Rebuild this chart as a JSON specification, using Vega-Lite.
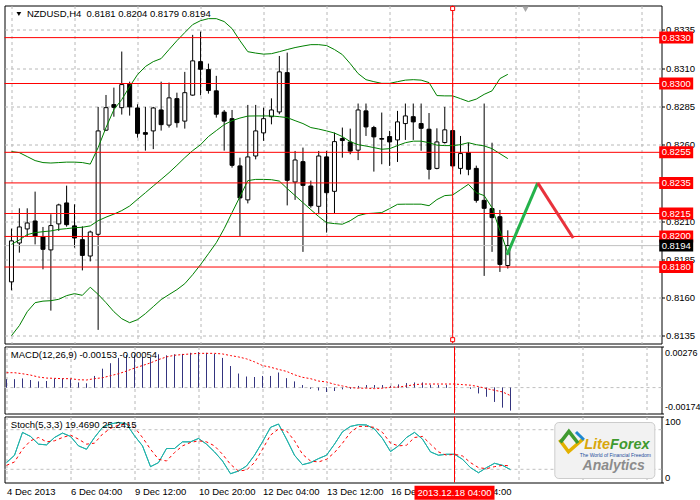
{
"$schema":"https://vega.github.io/schema/vega-lite/v6.json",
"padding":{"left":3.5,"top":3.5,"right":0,"bottom":0},
"background":"white",
"spacing":3,
"bounds":"flush",
"config":{"view":{"stroke":"black","strokeWidth":1},"font":"Liberation Sans","text":{"font":"Liberation Sans"},"axis":{"labelFont":"Liberation Sans","labelFontSize":9.5,"labelColor":"black","gridColor":"#b8b8b8","gridDash":[3,3],"domain":false,"title":null}},
"datasets":{
"bars":[
{"i":0,"o":0.81703,"h":0.82051,"l":0.81648,"c":0.81971,"bu":0.82555,"bm":0.81948,"bd":0.81351,"m":0.00055,"s":0.001,"k":30.1,"d":26},
{"i":1,"o":0.81957,"h":0.82184,"l":0.81894,"c":0.82062,"bu":0.82548,"bm":0.81977,"bd":0.81417,"m":0.00055,"s":0.001,"k":41.3,"d":31.1},
{"i":2,"o":0.82049,"h":0.82184,"l":0.81997,"c":0.82088,"bu":0.82522,"bm":0.82012,"bd":0.81508,"m":0.0006,"s":0.00093,"k":75.9,"d":50.4},
{"i":3,"o":0.82101,"h":0.82293,"l":0.81948,"c":0.82001,"bu":0.82496,"bm":0.82025,"bd":0.81567,"m":0.00051,"s":0.00084,"k":69.8,"d":63.2},
{"i":4,"o":0.81997,"h":0.82062,"l":0.81785,"c":0.81916,"bu":0.82483,"bm":0.82031,"bd":0.81577,"m":0.0004,"s":0.00071,"k":58.1,"d":68.2},
{"i":5,"o":0.81912,"h":0.82145,"l":0.81515,"c":0.82071,"bu":0.8248,"bm":0.82036,"bd":0.8158,"m":0.00044,"s":0.00064,"k":57,"d":61.6},
{"i":6,"o":0.82082,"h":0.82214,"l":0.82036,"c":0.82206,"bu":0.82483,"bm":0.82046,"bd":0.81589,"m":0.0006,"s":0.00062,"k":68.2,"d":63.2},
{"i":7,"o":0.82219,"h":0.82332,"l":0.82064,"c":0.82077,"bu":0.82486,"bm":0.82051,"bd":0.81613,"m":0.0006,"s":0.0006,"k":74.9,"d":68.2},
{"i":8,"o":0.82069,"h":0.8221,"l":0.81927,"c":0.8199,"bu":0.82486,"bm":0.82057,"bd":0.81626,"m":0.00055,"s":0.0006,"k":69.8,"d":71.8},
{"i":9,"o":0.81979,"h":0.82066,"l":0.81778,"c":0.81876,"bu":0.82483,"bm":0.8206,"bd":0.81615,"m":0.00033,"s":0.00053,"k":55.5,"d":65.7},
{"i":10,"o":0.81872,"h":0.82038,"l":0.81837,"c":0.82029,"bu":0.82473,"bm":0.82069,"bd":0.81668,"m":0.00027,"s":0.00051,"k":50.4,"d":58.1},
{"i":11,"o":0.82014,"h":0.82847,"l":0.81389,"c":0.8269,"bu":0.82581,"bm":0.82103,"bd":0.81621,"m":0.00078,"s":0.0006,"k":68.2,"d":59.6},
{"i":12,"o":0.82695,"h":0.82925,"l":0.82689,"c":0.82842,"bu":0.82712,"bm":0.82126,"bd":0.81567,"m":0.00126,"s":0.00066,"k":83.5,"d":73.3},
{"i":13,"o":0.82862,"h":0.82973,"l":0.82783,"c":0.82844,"bu":0.82829,"bm":0.82146,"bd":0.81508,"m":0.00162,"s":0.0008,"k":88.6,"d":82},
{"i":14,"o":0.82842,"h":0.83209,"l":0.82797,"c":0.82993,"bu":0.82895,"bm":0.82169,"bd":0.81462,"m":0.00199,"s":0.00093,"k":91.1,"d":87.1},
{"i":15,"o":0.82996,"h":0.83012,"l":0.8279,"c":0.82847,"bu":0.8298,"bm":0.82199,"bd":0.81436,"m":0.00219,"s":0.00111,"k":88.6,"d":88.6},
{"i":16,"o":0.8284,"h":0.82864,"l":0.82646,"c":0.82674,"bu":0.83058,"bm":0.82243,"bd":0.81456,"m":0.00215,"s":0.00131,"k":70.8,"d":83.5},
{"i":17,"o":0.82679,"h":0.82847,"l":0.82561,"c":0.82668,"bu":0.83111,"bm":0.82286,"bd":0.81495,"m":0.00206,"s":0.00148,"k":55.5,"d":68.2},
{"i":18,"o":0.8269,"h":0.82847,"l":0.82571,"c":0.8284,"bu":0.83143,"bm":0.8233,"bd":0.81541,"m":0.00199,"s":0.00166,"k":24,"d":50.4},
{"i":19,"o":0.82827,"h":0.83012,"l":0.82692,"c":0.82731,"bu":0.83163,"bm":0.82373,"bd":0.81587,"m":0.00222,"s":0.00188,"k":30.1,"d":35.2},
{"i":20,"o":0.82728,"h":0.83006,"l":0.82712,"c":0.82906,"bu":0.83222,"bm":0.82417,"bd":0.8162,"m":0.00215,"s":0.00206,"k":51.5,"d":32.6},
{"i":21,"o":0.82901,"h":0.8294,"l":0.82712,"c":0.82744,"bu":0.8328,"bm":0.82465,"bd":0.81652,"m":0.00222,"s":0.00217,"k":51.5,"d":45.3},
{"i":22,"o":0.82754,"h":0.83076,"l":0.82705,"c":0.8294,"bu":0.83333,"bm":0.82515,"bd":0.81691,"m":0.00226,"s":0.00222,"k":61.6,"d":55.5},
{"i":23,"o":0.82924,"h":0.83318,"l":0.8292,"c":0.83148,"bu":0.83385,"bm":0.82561,"bd":0.8175,"m":0.00233,"s":0.00226,"k":61.6,"d":60.6},
{"i":24,"o":0.83143,"h":0.83339,"l":0.82923,"c":0.83093,"bu":0.83411,"bm":0.826,"bd":0.81816,"m":0.00237,"s":0.0023,"k":66.7,"d":63.2},
{"i":25,"o":0.83091,"h":0.8313,"l":0.82934,"c":0.82954,"bu":0.83424,"bm":0.82653,"bd":0.81887,"m":0.00233,"s":0.0023,"k":58.1,"d":61.6},
{"i":26,"o":0.82952,"h":0.8305,"l":0.82777,"c":0.82799,"bu":0.83424,"bm":0.82692,"bd":0.81959,"m":0.00226,"s":0.0023,"k":46.4,"d":55.5},
{"i":27,"o":0.82813,"h":0.82827,"l":0.82561,"c":0.82754,"bu":0.83405,"bm":0.82731,"bd":0.82051,"m":0.00199,"s":0.00226,"k":32.6,"d":42.8},
{"i":28,"o":0.8277,"h":0.82827,"l":0.8245,"c":0.82465,"bu":0.83359,"bm":0.82757,"bd":0.82156,"m":0.00144,"s":0.00215,"k":13.3,"d":27.5},
{"i":29,"o":0.82461,"h":0.82515,"l":0.82003,"c":0.82252,"bu":0.8328,"bm":0.82774,"bd":0.8226,"m":0.00093,"s":0.00206,"k":17.4,"d":17.4},
{"i":30,"o":0.82239,"h":0.8286,"l":0.82216,"c":0.8252,"bu":0.83208,"bm":0.82787,"bd":0.82365,"m":0.00073,"s":0.00193,"k":25,"d":18.9},
{"i":31,"o":0.82526,"h":0.8286,"l":0.82504,"c":0.8269,"bu":0.83199,"bm":0.82788,"bd":0.82373,"m":0.00071,"s":0.00173,"k":41.3,"d":30.1},
{"i":32,"o":0.82677,"h":0.82842,"l":0.82625,"c":0.8277,"bu":0.83192,"bm":0.82788,"bd":0.82373,"m":0.00078,"s":0.00148,"k":61.6,"d":50.4},
{"i":33,"o":0.82783,"h":0.82903,"l":0.82733,"c":0.82827,"bu":0.83195,"bm":0.82788,"bd":0.82371,"m":0.00078,"s":0.00137,"k":83.5,"d":71.8},
{"i":34,"o":0.82814,"h":0.8318,"l":0.82799,"c":0.83076,"bu":0.83208,"bm":0.82783,"bd":0.82362,"m":0.001,"s":0.00122,"k":88.6,"d":81},
{"i":35,"o":0.83071,"h":0.83202,"l":0.82203,"c":0.82367,"bu":0.83222,"bm":0.82777,"bd":0.82313,"m":0.00062,"s":0.00109,"k":65.7,"d":78.4},
{"i":36,"o":0.82356,"h":0.82559,"l":0.82239,"c":0.825,"bu":0.83235,"bm":0.82757,"bd":0.82267,"m":0.0004,"s":0.00086,"k":41.3,"d":63.2},
{"i":37,"o":0.82489,"h":0.82581,"l":0.81899,"c":0.82334,"bu":0.83245,"bm":0.82738,"bd":0.82221,"m":0.00016,"s":0.00069,"k":27,"d":42.8},
{"i":38,"o":0.8233,"h":0.82365,"l":0.82188,"c":0.82201,"bu":0.83254,"bm":0.82712,"bd":0.82175,"m":-0.00007,"s":0.0006,"k":30.1,"d":32.6},
{"i":39,"o":0.82197,"h":0.82559,"l":0.82145,"c":0.82526,"bu":0.83254,"bm":0.82702,"bd":0.8213,"m":-0.00018,"s":0.00044,"k":36.2,"d":31.1},
{"i":40,"o":0.8252,"h":0.82559,"l":0.82025,"c":0.82286,"bu":0.83248,"bm":0.8269,"bd":0.8209,"m":-0.00029,"s":0.00038,"k":41.3,"d":35.2},
{"i":41,"o":0.82295,"h":0.82679,"l":0.82149,"c":0.8262,"bu":0.83222,"bm":0.82676,"bd":0.82084,"m":-0.00022,"s":0.00022,"k":58.1,"d":45.3},
{"i":42,"o":0.8264,"h":0.82712,"l":0.82515,"c":0.82627,"bu":0.83189,"bm":0.82653,"bd":0.8208,"m":-0.00011,"s":0.00011,"k":76.9,"d":59.6},
{"i":43,"o":0.82617,"h":0.82705,"l":0.82537,"c":0.82558,"bu":0.8313,"bm":0.8262,"bd":0.82103,"m":-0.00007,"s":0,"k":85,"d":75.9},
{"i":44,"o":0.82564,"h":0.82869,"l":0.82499,"c":0.82827,"bu":0.83065,"bm":0.826,"bd":0.82136,"m":0.00011,"s":-0.00004,"k":87.6,"d":85},
{"i":45,"o":0.82821,"h":0.82869,"l":0.82657,"c":0.82716,"bu":0.83025,"bm":0.82591,"bd":0.82149,"m":0.00016,"s":-0.00004,"k":87.1,"d":85},
{"i":46,"o":0.82712,"h":0.82723,"l":0.82424,"c":0.82651,"bu":0.83012,"bm":0.82581,"bd":0.82152,"m":0.00016,"s":-0.00007,"k":81,"d":83.5},
{"i":47,"o":0.8264,"h":0.8281,"l":0.82472,"c":0.82636,"bu":0.83001,"bm":0.8257,"bd":0.82156,"m":0.00016,"s":-0.00004,"k":66.7,"d":75.9},
{"i":48,"o":0.82653,"h":0.8269,"l":0.82461,"c":0.82618,"bu":0.83001,"bm":0.82574,"bd":0.82182,"m":0.00011,"s":0.00002,"k":46.9,"d":59.6},
{"i":49,"o":0.82631,"h":0.82821,"l":0.82487,"c":0.82749,"bu":0.83012,"bm":0.82594,"bd":0.8221,"m":0.0002,"s":0.00004,"k":55.5,"d":55.5},
{"i":50,"o":0.82738,"h":0.82869,"l":0.82631,"c":0.82788,"bu":0.83022,"bm":0.82613,"bd":0.82211,"m":0.00029,"s":0.00011,"k":68.2,"d":56.5},
{"i":51,"o":0.82783,"h":0.82869,"l":0.82631,"c":0.82749,"bu":0.83025,"bm":0.82623,"bd":0.82211,"m":0.00033,"s":0.0002,"k":75.9,"d":68.2},
{"i":52,"o":0.82738,"h":0.82869,"l":0.8256,"c":0.82707,"bu":0.83022,"bm":0.82623,"bd":0.82211,"m":0.00033,"s":0.00024,"k":65.7,"d":69.8},
{"i":53,"o":0.82701,"h":0.82807,"l":0.82373,"c":0.82439,"bu":0.83006,"bm":0.82613,"bd":0.82201,"m":0.00018,"s":0.00024,"k":46.4,"d":58.1},
{"i":54,"o":0.82445,"h":0.82707,"l":0.82439,"c":0.82618,"bu":0.82921,"bm":0.82597,"bd":0.82241,"m":0.00016,"s":0.00024,"k":41.3,"d":46.4},
{"i":55,"o":0.82614,"h":0.82847,"l":0.82607,"c":0.82697,"bu":0.82919,"bm":0.82594,"bd":0.82267,"m":0.00018,"s":0.00024,"k":42.8,"d":41.3},
{"i":56,"o":0.82692,"h":0.82699,"l":0.82447,"c":0.82461,"bu":0.82919,"bm":0.82594,"bd":0.82271,"m":0.00004,"s":0.00024,"k":42.8,"d":42.8},
{"i":57,"o":0.82445,"h":0.82657,"l":0.82406,"c":0.82542,"bu":0.82901,"bm":0.826,"bd":0.82306,"m":0,"s":0.0002,"k":35.2,"d":40.2},
{"i":58,"o":0.82548,"h":0.82613,"l":0.824,"c":0.82439,"bu":0.82882,"bm":0.82613,"bd":0.82341,"m":-0.00007,"s":0.00016,"k":22.5,"d":30.1},
{"i":59,"o":0.82445,"h":0.82463,"l":0.82221,"c":0.82236,"bu":0.82898,"bm":0.826,"bd":0.82286,"m":-0.00038,"s":0.00007,"k":14.8,"d":22.5},
{"i":60,"o":0.82236,"h":0.82869,"l":0.81742,"c":0.82184,"bu":0.82929,"bm":0.82592,"bd":0.82267,"m":-0.0006,"s":-0.00007,"k":22.5,"d":20.9},
{"i":61,"o":0.82182,"h":0.82613,"l":0.81899,"c":0.82123,"bu":0.82952,"bm":0.82574,"bd":0.82188,"m":-0.00095,"s":-0.00018,"k":29.1,"d":24},
{"i":62,"o":0.82129,"h":0.82173,"l":0.81768,"c":0.81817,"bu":0.83032,"bm":0.82541,"bd":0.82038,"m":-0.00133,"s":-0.00029,"k":26,"d":26},
{"i":63,"o":0.8181,"h":0.8204,"l":0.8179,"c":0.8194,"bu":0.8306,"bm":0.82509,"bd":0.81894,"m":-0.00153,"s":-0.00054,"k":19.469,"d":25.2415}
],
"levels":[
{"p":0.833,"lab":"0.8330","kind":"level"},
{"p":0.83,"lab":"0.8300","kind":"level"},
{"p":0.8255,"lab":"0.8255","kind":"level"},
{"p":0.8235,"lab":"0.8235","kind":"level"},
{"p":0.8215,"lab":"0.8215","kind":"level"},
{"p":0.82,"lab":"0.8200","kind":"level"},
{"p":0.818,"lab":"0.8180","kind":"level"},
{"p":0.8194,"lab":"0.8194","kind":"bid"}
],
"fc":[
{"i":62.9,"p":0.8188,"seg":"up"},
{"i":66.8,"p":0.8235,"seg":"up"},
{"i":66.8,"p":0.8235,"seg":"down"},
{"i":71.3,"p":0.8199,"seg":"down"}
],
"one":[{"n":1}]
},
"vconcat":[
{
"width":657,"height":338,
"data":{"name":"bars"},
"layer":[
{"mark":{"type":"rule","color":"black","strokeWidth":1},
 "encoding":{
  "x":{"field":"i","type":"quantitative","scale":{"domain":[-0.25,81.875],"nice":false,"zero":false},
       "axis":{"values":[0,4,8,12,16,20,24,28,32,36,40,44,48,52,56,60,64,68,72,76,80],"labels":false,"ticks":false,"grid":true,"title":null,"domain":false}},
  "y":{"field":"l","type":"quantitative","scale":{"domain":[0.813,0.8351],"nice":false,"zero":false},
       "axis":{"orient":"right","values":[0.8135,0.816,0.8185,0.821,0.826,0.8285,0.831,0.8335],"format":".4f","grid":true,"ticks":true,"tickSize":3,"tickColor":"black","labelPadding":1,"labelOverlap":false,"title":null,"domain":false}},
  "y2":{"field":"h"}}},
{"data":{"name":"levels"},"transform":[{"filter":"datum.kind === 'bid'"}],"mark":{"type":"rule","color":"#c0c0c0","strokeWidth":1},
 "encoding":{"y":{"field":"p","type":"quantitative","scale":{"domain":[0.813,0.8351],"nice":false,"zero":false}}}},
{"mark":{"type":"bar","width":4,"stroke":"black","strokeWidth":1},
 "encoding":{
  "x":{"field":"i","type":"quantitative","scale":{"domain":[-0.25,81.875],"nice":false,"zero":false}},
  "y":{"field":"o","type":"quantitative","scale":{"domain":[0.813,0.8351],"nice":false,"zero":false}},
  "y2":{"field":"c"},
  "fill":{"condition":{"test":"datum.c >= datum.o","value":"white"},"value":"black"}}},
{"mark":{"type":"line","color":"#008000","strokeWidth":1},
 "encoding":{"x":{"field":"i","type":"quantitative","scale":{"domain":[-0.25,81.875],"nice":false,"zero":false}},
  "y":{"field":"bu","type":"quantitative","scale":{"domain":[0.813,0.8351],"nice":false,"zero":false}}}},
{"mark":{"type":"line","color":"#008000","strokeWidth":1},
 "encoding":{"x":{"field":"i","type":"quantitative","scale":{"domain":[-0.25,81.875],"nice":false,"zero":false}},
  "y":{"field":"bm","type":"quantitative","scale":{"domain":[0.813,0.8351],"nice":false,"zero":false}}}},
{"mark":{"type":"line","color":"#008000","strokeWidth":1},
 "encoding":{"x":{"field":"i","type":"quantitative","scale":{"domain":[-0.25,81.875],"nice":false,"zero":false}},
  "y":{"field":"bd","type":"quantitative","scale":{"domain":[0.813,0.8351],"nice":false,"zero":false}}}},
{"data":{"name":"levels"},"transform":[{"filter":"datum.kind === 'level'"}],"mark":{"type":"rule","color":"#ff0000","strokeWidth":1},
 "encoding":{"y":{"field":"p","type":"quantitative","scale":{"domain":[0.813,0.8351],"nice":false,"zero":false}}}},
{"data":{"name":"one"},"mark":{"type":"rule","color":"#ff0000","strokeWidth":1},
 "encoding":{"x":{"datum":56,"type":"quantitative","scale":{"domain":[-0.25,81.875],"nice":false,"zero":false}}}},
{"data":{"name":"fc"},"mark":{"type":"line","strokeWidth":3},
 "encoding":{"x":{"field":"i","type":"quantitative","scale":{"domain":[-0.25,81.875],"nice":false,"zero":false}},
  "y":{"field":"p","type":"quantitative","scale":{"domain":[0.813,0.8351],"nice":false,"zero":false}},
  "color":{"field":"seg","type":"nominal","scale":{"domain":["up","down"],"range":["#24b24b","#e8323c"]},"legend":null},
  "detail":{"field":"seg"}}},
{"data":{"name":"one"},"mark":{"type":"point","shape":"square","size":16,"filled":true,"fill":"white","stroke":"#ff0000","strokeWidth":1,"opacity":1},
 "encoding":{"x":{"datum":56,"type":"quantitative","scale":{"domain":[-0.25,81.875],"nice":false,"zero":false}},
  "y":{"datum":0.8349,"type":"quantitative","scale":{"domain":[0.813,0.8351],"nice":false,"zero":false}}}},
{"data":{"name":"one"},"mark":{"type":"point","shape":"square","size":16,"filled":true,"fill":"white","stroke":"#ff0000","strokeWidth":1,"opacity":1},
 "encoding":{"x":{"datum":56,"type":"quantitative","scale":{"domain":[-0.25,81.875],"nice":false,"zero":false}},
  "y":{"datum":0.81325,"type":"quantitative","scale":{"domain":[0.813,0.8351],"nice":false,"zero":false}}}},
{"data":{"name":"one"},"mark":{"type":"point","shape":"triangle-down","size":40,"filled":true,"color":"#a8a8a8","opacity":1},
 "encoding":{"x":{"datum":65.25,"type":"quantitative","scale":{"domain":[-0.25,81.875],"nice":false,"zero":false}},
  "y":{"datum":0.83485,"type":"quantitative","scale":{"domain":[0.813,0.8351],"nice":false,"zero":false}}}},
{"data":{"name":"one"},"mark":{"type":"point","shape":"triangle-down","size":22,"filled":true,"color":"black","opacity":1},
 "encoding":{"x":{"datum":0.94,"type":"quantitative","scale":{"domain":[-0.25,81.875],"nice":false,"zero":false}},
  "y":{"datum":0.83454,"type":"quantitative","scale":{"domain":[0.813,0.8351],"nice":false,"zero":false}}}},
{"data":{"name":"one"},"mark":{"type":"text","align":"left","baseline":"middle","fontSize":9.5,"color":"black","text":"NZDUSD,H4\u00a0 0.8181 0.8204 0.8179 0.8194"},
 "encoding":{"x":{"datum":1.96,"type":"quantitative","scale":{"domain":[-0.25,81.875],"nice":false,"zero":false}},
  "y":{"datum":0.83454,"type":"quantitative","scale":{"domain":[0.813,0.8351],"nice":false,"zero":false}}}},
{"data":{"name":"levels"},"mark":{"type":"point","shape":"M-1,-0.353L1,-0.353L1,0.353L-1,0.353Z","size":1156,"filled":true,"opacity":1,"strokeWidth":0},
 "encoding":{"x":{"datum":84.375,"type":"quantitative","scale":{"domain":[-0.25,81.875],"nice":false,"zero":false}},
  "y":{"field":"p","type":"quantitative","scale":{"domain":[0.813,0.8351],"nice":false,"zero":false}},
  "color":{"condition":{"test":"datum.kind === 'bid'","value":"black"},"value":"#ff0000"}}},
{"data":{"name":"levels"},"mark":{"type":"text","align":"center","baseline":"middle","fontSize":9.5,"color":"white"},
 "encoding":{"x":{"datum":84.375,"type":"quantitative","scale":{"domain":[-0.25,81.875],"nice":false,"zero":false}},
  "y":{"field":"p","type":"quantitative","scale":{"domain":[0.813,0.8351],"nice":false,"zero":false}},
  "text":{"field":"lab"}}}
]
},
{
"width":657,"height":67,
"data":{"name":"bars"},
"layer":[
{"mark":{"type":"rule","color":"#34347f","strokeWidth":1},
 "encoding":{
  "x":{"field":"i","type":"quantitative","scale":{"domain":[-0.25,81.875],"nice":false,"zero":false},
       "axis":{"values":[0,4,8,12,16,20,24,28,32,36,40,44,48,52,56,60,64,68,72,76,80],"labels":false,"ticks":false,"grid":true,"title":null,"domain":false}},
  "y":{"field":"m","type":"quantitative","scale":{"domain":[-0.00174,0.00276],"nice":false,"zero":false},
       "axis":{"orient":"right","values":[0.00276,0,-0.00174],"labelExpr":"datum.value > 0.001 ? '0.00276' : (datum.value < -0.001 ? '-0.00174' : '0.00')","grid":false,"ticks":true,"tickSize":2,"tickColor":"black","labelPadding":1,"labelFontSize":9,"labelFlush":true,"labelFlushOffset":-2,"labelOverlap":false,"title":null,"domain":false}},
  "y2":{"datum":0}}},
{"data":{"name":"one"},"mark":{"type":"rule","color":"#c0c0c0","strokeDash":[3,3],"strokeWidth":1},
 "encoding":{"y":{"datum":0,"type":"quantitative","scale":{"domain":[-0.00174,0.00276],"nice":false,"zero":false}}}},
{"mark":{"type":"rule","color":"#34347f","strokeWidth":1},
 "encoding":{
  "x":{"field":"i","type":"quantitative","scale":{"domain":[-0.25,81.875],"nice":false,"zero":false}},
  "y":{"field":"m","type":"quantitative","scale":{"domain":[-0.00174,0.00276],"nice":false,"zero":false}},
  "y2":{"datum":0}}},
{"mark":{"type":"line","color":"#ff0000","strokeWidth":1,"strokeDash":[2,2]},
 "encoding":{"x":{"field":"i","type":"quantitative","scale":{"domain":[-0.25,81.875],"nice":false,"zero":false}},
  "y":{"field":"s","type":"quantitative","scale":{"domain":[-0.00174,0.00276],"nice":false,"zero":false}}}},
{"data":{"name":"one"},"mark":{"type":"rule","color":"#ff0000","strokeWidth":1},
 "encoding":{"x":{"datum":56,"type":"quantitative","scale":{"domain":[-0.25,81.875],"nice":false,"zero":false}}}},
{"data":{"name":"one"},"mark":{"type":"text","align":"left","baseline":"middle","fontSize":9.5,"color":"black","text":"MACD(12,26,9) -0.00153 -0.00054"},
 "encoding":{"x":{"datum":0.54,"type":"quantitative","scale":{"domain":[-0.25,81.875],"nice":false,"zero":false}},
  "y":{"datum":0.00218,"type":"quantitative","scale":{"domain":[-0.00174,0.00276],"nice":false,"zero":false}}}}
]
},
{
"width":657,"height":66,
"data":{"name":"bars"},
"layer":[
{"mark":{"type":"line","color":"#20b2aa","strokeWidth":1},
 "encoding":{
  "x":{"field":"i","type":"quantitative","scale":{"domain":[-0.25,81.875],"nice":false,"zero":false},
       "axis":{"values":[0,4,8,12,16,20,24,28,32,36,40,44,48,52,56,60,64,68,72,76,80],"grid":true,"title":null,"domain":false,"ticks":false,
               "labelAlign":"left","labelBaseline":"top","labelPadding":4,"labelOverlap":false,"labelBound":false,"labelFlush":false,
               "labelExpr":"datum.value == 0 ? '4 Dec 2013' : datum.value == 8 ? '6 Dec 04:00' : datum.value == 16 ? '9 Dec 12:00' : datum.value == 24 ? '10 Dec 20:00' : datum.value == 32 ? '12 Dec 04:00' : datum.value == 40 ? '13 Dec 12:00' : datum.value == 48 ? '16 Dec 20:00' : datum.value == 56 ? '18 Dec 04:00' : ''"}},
  "y":{"field":"k","type":"quantitative","scale":{"domain":[0,100],"nice":false,"zero":false},
       "axis":{"orient":"right","values":[0,20,80,100],"grid":false,"ticks":true,"tickSize":2,"tickColor":"black","labelPadding":1,"labelFlush":true,"labelOverlap":false,"title":null,"domain":false}}}},
{"data":{"name":"one"},"mark":{"type":"rule","color":"#c0c0c0","strokeDash":[3,3],"strokeWidth":1},
 "encoding":{"y":{"datum":80,"type":"quantitative","scale":{"domain":[0,100],"nice":false,"zero":false}}}},
{"data":{"name":"one"},"mark":{"type":"rule","color":"#c0c0c0","strokeDash":[3,3],"strokeWidth":1},
 "encoding":{"y":{"datum":20,"type":"quantitative","scale":{"domain":[0,100],"nice":false,"zero":false}}}},
{"mark":{"type":"line","color":"#20b2aa","strokeWidth":1},
 "encoding":{"x":{"field":"i","type":"quantitative","scale":{"domain":[-0.25,81.875],"nice":false,"zero":false}},
  "y":{"field":"k","type":"quantitative","scale":{"domain":[0,100],"nice":false,"zero":false}}}},
{"mark":{"type":"line","color":"#ff0000","strokeWidth":1,"strokeDash":[3,3]},
 "encoding":{"x":{"field":"i","type":"quantitative","scale":{"domain":[-0.25,81.875],"nice":false,"zero":false}},
  "y":{"field":"d","type":"quantitative","scale":{"domain":[0,100],"nice":false,"zero":false}}}},
{"data":{"name":"one"},"mark":{"type":"rule","color":"#ff0000","strokeWidth":1},
 "encoding":{"x":{"datum":56,"type":"quantitative","scale":{"domain":[-0.25,81.875],"nice":false,"zero":false}}}},
{"data":{"name":"one"},"mark":{"type":"text","align":"left","baseline":"middle","fontSize":9.5,"color":"black","text":"Stoch(5,3,3) 19.4690 25.2415"},
 "encoding":{"x":{"datum":0.54,"type":"quantitative","scale":{"domain":[-0.25,81.875],"nice":false,"zero":false}},
  "y":{"datum":86.8,"type":"quantitative","scale":{"domain":[0,100],"nice":false,"zero":false}}}},
{"data":{"name":"one"},"mark":{"type":"rect","fill":"#f2f2f2","stroke":"#cccccc","strokeWidth":1,"cornerRadius":4},
 "encoding":{"x":{"datum":68.54,"type":"quantitative","scale":{"domain":[-0.25,81.875],"nice":false,"zero":false}},
  "x2":{"datum":81.04},
  "y":{"datum":90.9,"type":"quantitative","scale":{"domain":[0,100],"nice":false,"zero":false}},
  "y2":{"datum":6.06}}},
{"data":{"name":"one"},"mark":{"type":"point","shape":"M-0.92,-0.15L-0.23,0.77L0.92,-0.23","size":676,"filled":false,"color":"#e3b100","strokeWidth":3.5,"opacity":1},
 "encoding":{"x":{"datum":70.62,"type":"quantitative","scale":{"domain":[-0.25,81.875],"nice":false,"zero":false}},
  "y":{"datum":61.8,"type":"quantitative","scale":{"domain":[0,100],"nice":false,"zero":false}}}},
{"data":{"name":"one"},"mark":{"type":"point","shape":"M-0.85,0.05L-0.2,-0.8L0.5,0.1","size":676,"filled":false,"color":"#3f9a2f","strokeWidth":3.5,"opacity":1},
 "encoding":{"x":{"datum":70.62,"type":"quantitative","scale":{"domain":[-0.25,81.875],"nice":false,"zero":false}},
  "y":{"datum":61.8,"type":"quantitative","scale":{"domain":[0,100],"nice":false,"zero":false}}}},
{"data":{"name":"one"},"mark":{"type":"point","shape":"M0.35,-0.75L0.95,-0.15","size":676,"filled":false,"color":"#1e88d0","strokeWidth":3,"opacity":1},
 "encoding":{"x":{"datum":70.62,"type":"quantitative","scale":{"domain":[-0.25,81.875],"nice":false,"zero":false}},
  "y":{"datum":61.8,"type":"quantitative","scale":{"domain":[0,100],"nice":false,"zero":false}}}},
{"data":{"name":"one"},"mark":{"type":"text","align":"left","baseline":"middle","fontSize":14.5,"fontWeight":"bold","fontStyle":"italic","color":"#d9a60b","text":"Lite"},
 "encoding":{"x":{"datum":72.21,"type":"quantitative","scale":{"domain":[-0.25,81.875],"nice":false,"zero":false}},
  "y":{"datum":56.1,"type":"quantitative","scale":{"domain":[0,100],"nice":false,"zero":false}}}},
{"data":{"name":"one"},"mark":{"type":"text","align":"left","baseline":"middle","fontSize":14.5,"fontWeight":"bold","fontStyle":"italic","color":"#3f9a2f","text":"Forex"},
 "encoding":{"x":{"datum":75.44,"type":"quantitative","scale":{"domain":[-0.25,81.875],"nice":false,"zero":false}},
  "y":{"datum":56.1,"type":"quantitative","scale":{"domain":[0,100],"nice":false,"zero":false}}}},
{"data":{"name":"one"},"mark":{"type":"text","align":"center","baseline":"middle","fontSize":5,"color":"#1f4e9c","text":"The World of Financial Freedom"},
 "encoding":{"x":{"datum":76.1,"type":"quantitative","scale":{"domain":[-0.25,81.875],"nice":false,"zero":false}},
  "y":{"datum":41.7,"type":"quantitative","scale":{"domain":[0,100],"nice":false,"zero":false}}}},
{"data":{"name":"one"},"mark":{"type":"text","align":"center","baseline":"middle","fontSize":14,"fontWeight":"bold","fontStyle":"italic","color":"#8c8c8c","text":"Analytics"},
 "encoding":{"x":{"datum":75.9,"type":"quantitative","scale":{"domain":[-0.25,81.875],"nice":false,"zero":false}},
  "y":{"datum":25,"type":"quantitative","scale":{"domain":[0,100],"nice":false,"zero":false}}}},
{"data":{"name":"one"},"mark":{"type":"point","shape":"M-1,-0.175L1,-0.175L1,0.175L-1,0.175Z","size":6400,"filled":true,"color":"#ff0000","opacity":1,"strokeWidth":0},
 "encoding":{"x":{"datum":56,"type":"quantitative","scale":{"domain":[-0.25,81.875],"nice":false,"zero":false}},
  "y":{"datum":-15.5,"type":"quantitative","scale":{"domain":[0,100],"nice":false,"zero":false}}}},
{"data":{"name":"one"},"mark":{"type":"text","align":"center","baseline":"middle","fontSize":9.5,"color":"white","text":"2013.12.18 04:00"},
 "encoding":{"x":{"datum":56,"type":"quantitative","scale":{"domain":[-0.25,81.875],"nice":false,"zero":false}},
  "y":{"datum":-15.5,"type":"quantitative","scale":{"domain":[0,100],"nice":false,"zero":false}}}}
]
}
]
}
